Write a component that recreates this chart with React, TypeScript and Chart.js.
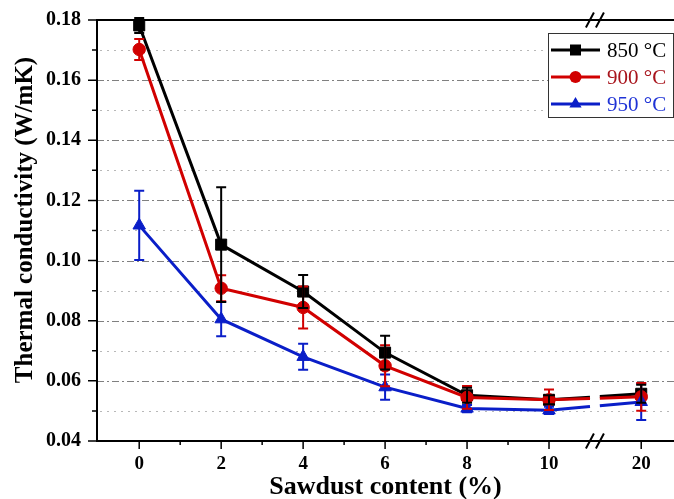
import React, { useEffect, useRef } from 'react';
import { Chart, registerables } from 'chart.js';

Chart.register(...registerables);

// ---- data ----
const xPositions = [0, 2, 4, 6, 8, 10, 12.25];
const xLabels = ['0', '2', '4', '6', '8', '10', '20'];
const xMinorTicks = [1, 3, 5, 7, 9];
const yMajorTicks = [0.04, 0.06, 0.08, 0.1, 0.12, 0.14, 0.16, 0.18];
const yMinorTicks = [0.05, 0.07, 0.09, 0.11, 0.13, 0.15, 0.17];
const axisBreak = [11.0, 11.24];
const breakMark = 11.12;

const xTitle = 'Sawdust content (%)';
const yTitle = 'Thermal conductivity (W/mK)';

const seriesNames = ['850 °C', '900 °C', '950 °C'];
const s850 = [0.1782, 0.1053, 0.0897, 0.0694, 0.0552, 0.0537, 0.0557];
const e850 = [0.0025, 0.0191, 0.0055, 0.0056, 0.0025, 0.0015, 0.003];
const s900 = [0.1702, 0.0908, 0.0844, 0.065, 0.0545, 0.0537, 0.0547];
const e900 = [0.0035, 0.0043, 0.007, 0.0068, 0.0038, 0.0034, 0.0046];
const s950 = [0.1117, 0.0805, 0.068, 0.0579, 0.0508, 0.0502, 0.053];
const e950 = [0.0115, 0.0057, 0.0043, 0.0042, 0.0012, 0.0012, 0.006];

const lineColors = ['#000000', '#d10000', '#0a1ec8'];
const textColors = ['#000000', '#a8141c', '#1f33d6'];
const pointStyles = ['rect', 'circle', 'triangle'];
const pointRadii = [7.8, 6.2, 7.2];

const FONT = '"Liberation Serif", "Times New Roman", serif';

function drawMarker(ctx: CanvasRenderingContext2D, style: string, x: number, y: number, color: string) {
  ctx.fillStyle = color;
  ctx.beginPath();
  if (style === 'rect') {
    ctx.rect(x - 5.5, y - 5.5, 11, 11);
  } else if (style === 'circle') {
    ctx.arc(x, y, 6, 0, Math.PI * 2);
  } else {
    ctx.moveTo(x, y - 7);
    ctx.lineTo(x + 6.1, y + 3.5);
    ctx.lineTo(x - 6.1, y + 3.5);
    ctx.closePath();
  }
  ctx.fill();
}

const customPlugin = {
  id: 'customDecor',
  beforeDatasetsDraw(chart: any) {
    const { ctx, chartArea: ca, scales } = chart;
    const x = scales.x;
    const y = scales.y;
    const right = chart.width;
    ctx.save();
    // grid lines
    ctx.lineWidth = 1;
    ctx.setLineDash([7, 3, 2, 3]);
    ctx.strokeStyle = '#808080';
    yMajorTicks.forEach((v) => {
      if (v <= 0.04 || v >= 0.18) return;
      const py = Math.round(y.getPixelForValue(v)) + 0.5;
      ctx.beginPath();
      ctx.moveTo(ca.left, py);
      ctx.lineTo(right, py);
      ctx.stroke();
    });
    ctx.setLineDash([2, 5]);
    ctx.strokeStyle = '#b8b8b8';
    yMinorTicks.forEach((v) => {
      const py = Math.round(y.getPixelForValue(v)) + 0.5;
      ctx.beginPath();
      ctx.moveTo(ca.left + 3, py);
      ctx.lineTo(right, py);
      ctx.stroke();
    });
    ctx.setLineDash([]);
    // broken segments across axis break
    const xb1 = x.getPixelForValue(axisBreak[0]);
    const xb2 = x.getPixelForValue(axisBreak[1]);
    chart.data.datasets.forEach((ds: any, di: number) => {
      const meta = chart.getDatasetMeta(di);
      const p0 = meta.data[5];
      const p1 = meta.data[6];
      if (!p0 || !p1) return;
      const yAt = (px: number) => p0.y + ((px - p0.x) / (p1.x - p0.x)) * (p1.y - p0.y);
      ctx.strokeStyle = ds.borderColor;
      ctx.lineWidth = ds.borderWidth;
      ctx.beginPath();
      ctx.moveTo(p0.x, p0.y);
      ctx.lineTo(xb1, yAt(xb1));
      ctx.moveTo(xb2, yAt(xb2));
      ctx.lineTo(p1.x, p1.y);
      ctx.stroke();
    });
    ctx.restore();
  },
  afterDatasetsDraw(chart: any) {
    const { ctx, chartArea: ca, scales } = chart;
    const x = scales.x;
    const y = scales.y;
    const right = chart.width;
    const errs = [e850, e900, e950];
    ctx.save();
    // error bars
    [2, 1, 0].forEach((di) => {
      const ds = chart.data.datasets[di];
      ctx.strokeStyle = lineColors[di];
      ctx.lineWidth = 2;
      ds.data.forEach((pt: any, i: number) => {
        const px = x.getPixelForValue(pt.x);
        const top = y.getPixelForValue(pt.y + errs[di][i]);
        const bot = y.getPixelForValue(pt.y - errs[di][i]);
        ctx.beginPath();
        ctx.moveTo(px, top);
        ctx.lineTo(px, bot);
        ctx.moveTo(px - 5, top);
        ctx.lineTo(px + 5, top);
        ctx.moveTo(px - 5, bot);
        ctx.lineTo(px + 5, bot);
        ctx.stroke();
      });
    });
    // axes
    const yTop = y.getPixelForValue(0.18);
    const yBot = y.getPixelForValue(0.04);
    const xL = ca.left;
    ctx.strokeStyle = '#000';
    ctx.lineWidth = 2;
    ctx.beginPath();
    ctx.moveTo(xL, yTop);
    ctx.lineTo(right, yTop);
    ctx.moveTo(xL, yTop - 1);
    ctx.lineTo(xL, yBot + 1);
    ctx.moveTo(xL - 1, yBot);
    ctx.lineTo(right, yBot);
    ctx.stroke();
    // y ticks
    ctx.lineWidth = 1.5;
    ctx.beginPath();
    yMajorTicks.forEach((v) => {
      const py = y.getPixelForValue(v);
      ctx.moveTo(xL - 9, py);
      ctx.lineTo(xL, py);
    });
    yMinorTicks.forEach((v) => {
      const py = y.getPixelForValue(v);
      ctx.moveTo(xL - 5, py);
      ctx.lineTo(xL, py);
    });
    // x ticks
    xPositions.forEach((v) => {
      const px = x.getPixelForValue(v);
      ctx.moveTo(px, yBot);
      ctx.lineTo(px, yBot + 8);
    });
    xMinorTicks.forEach((v) => {
      const px = x.getPixelForValue(v);
      ctx.moveTo(px, yBot);
      ctx.lineTo(px, yBot + 4);
    });
    ctx.stroke();
    // break marks
    const xb = x.getPixelForValue(breakMark);
    ctx.lineWidth = 2;
    ctx.beginPath();
    [yTop, yBot].forEach((py) => {
      [-5, 5].forEach((off) => {
        ctx.moveTo(xb + off - 4, py + 7.5);
        ctx.lineTo(xb + off + 4, py - 7.5);
      });
    });
    ctx.stroke();
    // y axis title
    ctx.save();
    ctx.translate(26, 220);
    ctx.rotate(-Math.PI / 2);
    ctx.font = 'bold 25px ' + FONT;
    ctx.fillStyle = '#000';
    ctx.textAlign = 'center';
    ctx.textBaseline = 'middle';
    ctx.fillText(yTitle, 0, 0);
    ctx.restore();
    // legend
    const lx = 548.5;
    const ly = 33.5;
    ctx.fillStyle = '#fff';
    ctx.fillRect(lx, ly, 125, 84);
    ctx.strokeStyle = '#333';
    ctx.lineWidth = 1;
    ctx.strokeRect(lx, ly, 125, 84);
    const rows = [50, 77, 104];
    ctx.font = '21px ' + FONT;
    ctx.textBaseline = 'middle';
    ctx.textAlign = 'left';
    seriesNames.forEach((name, i) => {
      const ry = rows[i];
      ctx.strokeStyle = lineColors[i];
      ctx.lineWidth = 3;
      ctx.beginPath();
      ctx.moveTo(551, ry);
      ctx.lineTo(600, ry);
      ctx.stroke();
      drawMarker(ctx, pointStyles[i], 575.5, ry, lineColors[i]);
      ctx.fillStyle = textColors[i];
      ctx.fillText(name, 607, ry + 1);
    });
    ctx.restore();
  },
};

export default function App() {
  const canvasRef = useRef<HTMLCanvasElement | null>(null);

  useEffect(() => {
    const canvas = canvasRef.current;
    if (!canvas) return;
    const seriesVals = [s850, s900, s950];
    const datasets = seriesVals.map((vals, i) => ({
      label: seriesNames[i],
      data: vals.map((v, j) => ({ x: xPositions[j], y: v })),
      borderColor: lineColors[i],
      backgroundColor: lineColors[i],
      borderWidth: 3,
      pointStyle: pointStyles[i],
      pointRadius: pointRadii[i],
      pointBorderWidth: 1,
      pointBackgroundColor: lineColors[i],
      pointBorderColor: lineColors[i],
      tension: 0,
      clip: false,
      order: 2 - i,
      segment: {
        borderColor: (c: any) => (c.p0DataIndex === 5 ? 'rgba(0,0,0,0)' : undefined),
      },
    }));

    const chart = new Chart(canvas, {
      type: 'line',
      data: { datasets } as any,
      options: {
        animation: false,
        responsive: false,
        devicePixelRatio: 1,
        layout: { autoPadding: false, padding: { top: 20, right: 0, bottom: 0, left: 0 } },
        plugins: {
          legend: { display: false },
          tooltip: { enabled: false },
        },
        scales: {
          x: {
            type: 'linear',
            min: -1.03,
            max: 13.05,
            afterFit: (s: any) => {
              s.height = 58;
              s.paddingLeft = 0;
              s.paddingRight = 0;
              s.paddingTop = 0;
              s.paddingBottom = 0;
            },
            afterBuildTicks: (s: any) => {
              s.ticks = xPositions.map((v) => ({ value: v }));
            },
            grid: { display: false, drawTicks: false },
            border: { display: false },
            ticks: {
              callback: (_v: any, idx: number) => xLabels[idx],
              font: { family: FONT, size: 19, weight: 'bold' },
              color: '#000',
              padding: 12,
              maxRotation: 0,
              autoSkip: false,
            },
            title: {
              display: true,
              text: xTitle,
              font: { family: FONT, size: 26, weight: 'bold', lineHeight: 1 },
              color: '#000',
              padding: { top: 0, bottom: -1 },
            },
          },
          y: {
            type: 'linear',
            min: 0.04,
            max: 0.18,
            afterFit: (s: any) => {
              s.width = 97;
              s.paddingLeft = 0;
              s.paddingRight = 0;
              s.paddingTop = 0;
              s.paddingBottom = 0;
            },
            afterBuildTicks: (s: any) => {
              s.ticks = yMajorTicks.map((v) => ({ value: v }));
            },
            grid: { display: false, drawTicks: false },
            border: { display: false },
            ticks: {
              callback: (v: any) => Number(v).toFixed(2),
              font: { family: FONT, size: 20, weight: 'bold' },
              color: '#000',
              padding: 16,
              autoSkip: false,
            },
            title: { display: false },
          },
        },
      } as any,
      plugins: [customPlugin],
    });
    return () => chart.destroy();
  }, []);

  return (
    <div style={{ position: 'absolute', left: 0, top: 0, width: 674, height: 499, background: '#fff' }}>
      <canvas ref={canvasRef} width={674} height={499} style={{ display: 'block' }} />
    </div>
  );
}
